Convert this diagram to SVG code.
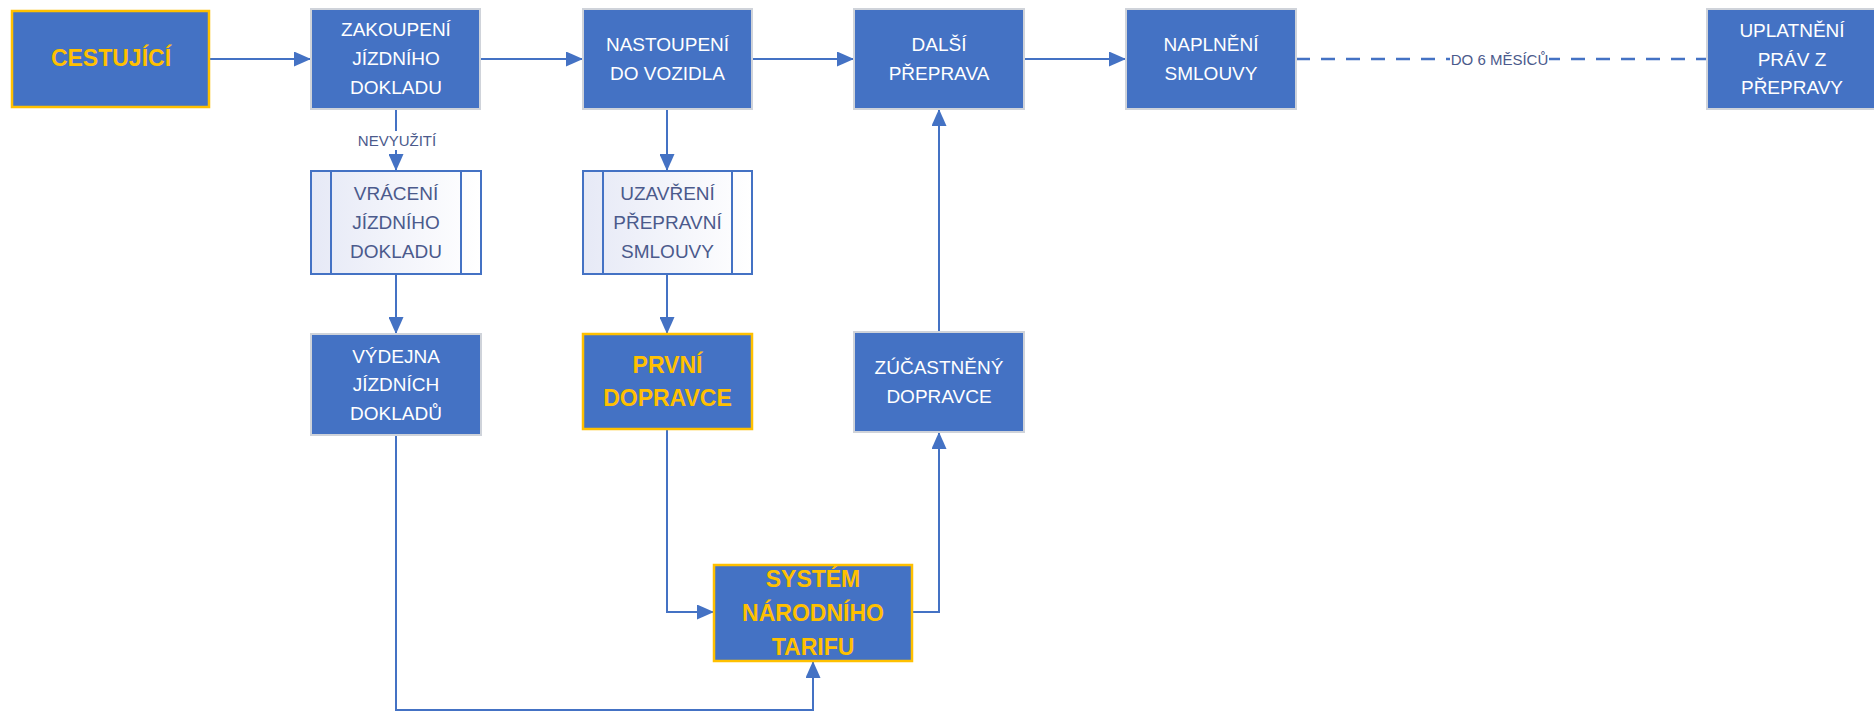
<svg xmlns="http://www.w3.org/2000/svg" width="1874" height="713" viewBox="0 0 1874 713">
<style>
.box{fill:#4472c4;stroke:#cfd3da;stroke-width:2}
.key{fill:#4472c4;stroke:#ffc000;stroke-width:2.5}
.sub{fill:url(#subfill);stroke:#4472c4;stroke-width:2}
.bar{stroke:#4472c4;stroke-width:2}
.t{font-family:"Liberation Sans",Arial,sans-serif;font-size:19px;fill:#ffffff;text-anchor:middle}
.ts{font-family:"Liberation Sans",Arial,sans-serif;font-size:19px;fill:#4b5a8c;text-anchor:middle}
.tk{font-family:"Liberation Sans",Arial,sans-serif;font-size:23px;font-weight:bold;fill:#ffc000;text-anchor:middle}
.lbl{font-family:"Liberation Sans",Arial,sans-serif;font-size:15px;fill:#4b5a8c;text-anchor:middle}
.c{fill:none;stroke:#4472c4;stroke-width:2}
.dash{fill:none;stroke:#4472c4;stroke-width:2.5;stroke-dasharray:14 11}
</style>
<defs>
<linearGradient id="subfill" x1="0" y1="0" x2="1" y2="0">
<stop offset="0" stop-color="#e6e9f6"/>
<stop offset="1" stop-color="#ffffff"/>
</linearGradient>
<marker id="ah" markerUnits="userSpaceOnUse" markerWidth="17" markerHeight="15" refX="17" refY="7.5" orient="auto">
<path d="M0,0 L17,7.5 L0,15 z" fill="#4472c4"/>
</marker>
</defs>
<rect width="1874" height="713" fill="#ffffff"/>

<g id="connectors">
<path class="c" d="M209,59 H311" marker-end="url(#ah)"/>
<path class="c" d="M480,59 H583" marker-end="url(#ah)"/>
<path class="c" d="M752,59 H854" marker-end="url(#ah)"/>
<path class="c" d="M1024,59 H1126" marker-end="url(#ah)"/>
<path class="dash" d="M1296,59 H1707"/>
<rect x="1450" y="50" width="99" height="18" fill="#ffffff"/>
<text class="lbl" x="1499.5" y="64.5">DO 6 MĚSÍCŮ</text>
<path class="c" d="M396,109 V171" marker-end="url(#ah)"/>
<rect x="356" y="131" width="82" height="19" fill="#ffffff"/>
<text class="lbl" x="397" y="146">NEVYUŽITÍ</text>
<path class="c" d="M396,274 V334" marker-end="url(#ah)"/>
<path class="c" d="M667,109 V171" marker-end="url(#ah)"/>
<path class="c" d="M667,274 V334" marker-end="url(#ah)"/>
<path class="c" d="M667,429 V612 H714" marker-end="url(#ah)"/>
<path class="c" d="M396,435 V710 H813 V661" marker-end="url(#ah)"/>
<path class="c" d="M912,612 H939 V432" marker-end="url(#ah)"/>
<path class="c" d="M939,332 V109" marker-end="url(#ah)"/>
</g>

<g id="cestujici">
<rect class="key" x="12" y="11" width="197" height="96"/>
<text class="tk" x="111" y="66">CESTUJÍCÍ</text>
</g>

<g id="zakoupeni">
<rect class="box" x="311" y="9" width="169" height="100"/>
<text class="t" x="396" y="36">ZAKOUPENÍ</text>
<text class="t" x="396" y="65">JÍZDNÍHO</text>
<text class="t" x="396" y="94">DOKLADU</text>
</g>

<g id="nastoupeni">
<rect class="box" x="583" y="9" width="169" height="100"/>
<text class="t" x="667.5" y="51">NASTOUPENÍ</text>
<text class="t" x="667.5" y="80">DO VOZIDLA</text>
</g>

<g id="dalsi">
<rect class="box" x="854" y="9" width="170" height="100"/>
<text class="t" x="939" y="51">DALŠÍ</text>
<text class="t" x="939" y="80">PŘEPRAVA</text>
</g>

<g id="naplneni">
<rect class="box" x="1126" y="9" width="170" height="100"/>
<text class="t" x="1211" y="51">NAPLNĚNÍ</text>
<text class="t" x="1211" y="80">SMLOUVY</text>
</g>

<g id="uplatneni">
<rect class="box" x="1707" y="9" width="170" height="100"/>
<text class="t" x="1792" y="37">UPLATNĚNÍ</text>
<text class="t" x="1792" y="66">PRÁV Z</text>
<text class="t" x="1792" y="94">PŘEPRAVY</text>
</g>

<g id="vraceni">
<rect class="sub" x="311" y="171" width="170" height="103"/>
<line class="bar" x1="331" y1="171" x2="331" y2="274"/>
<line class="bar" x1="461" y1="171" x2="461" y2="274"/>
<text class="ts" x="396" y="200">VRÁCENÍ</text>
<text class="ts" x="396" y="229">JÍZDNÍHO</text>
<text class="ts" x="396" y="258">DOKLADU</text>
</g>

<g id="uzavreni">
<rect class="sub" x="583" y="171" width="169" height="103"/>
<line class="bar" x1="603" y1="171" x2="603" y2="274"/>
<line class="bar" x1="732" y1="171" x2="732" y2="274"/>
<text class="ts" x="667.5" y="200">UZAVŘENÍ</text>
<text class="ts" x="667.5" y="229">PŘEPRAVNÍ</text>
<text class="ts" x="667.5" y="258">SMLOUVY</text>
</g>

<g id="vydejna">
<rect class="box" x="311" y="334" width="170" height="101"/>
<text class="t" x="396" y="363">VÝDEJNA</text>
<text class="t" x="396" y="391">JÍZDNÍCH</text>
<text class="t" x="396" y="420">DOKLADŮ</text>
</g>

<g id="prvni">
<rect class="key" x="583" y="334" width="169" height="95"/>
<text class="tk" x="667.5" y="373">PRVNÍ</text>
<text class="tk" x="667.5" y="406">DOPRAVCE</text>
</g>

<g id="zucastneny">
<rect class="box" x="854" y="332" width="170" height="100"/>
<text class="t" x="939" y="374">ZÚČASTNĚNÝ</text>
<text class="t" x="939" y="403">DOPRAVCE</text>
</g>

<g id="system">
<rect class="key" x="714" y="565" width="198" height="96"/>
<text class="tk" x="813" y="587">SYSTÉM</text>
<text class="tk" x="813" y="621">NÁRODNÍHO</text>
<text class="tk" x="813" y="655">TARIFU</text>
</g>
</svg>
